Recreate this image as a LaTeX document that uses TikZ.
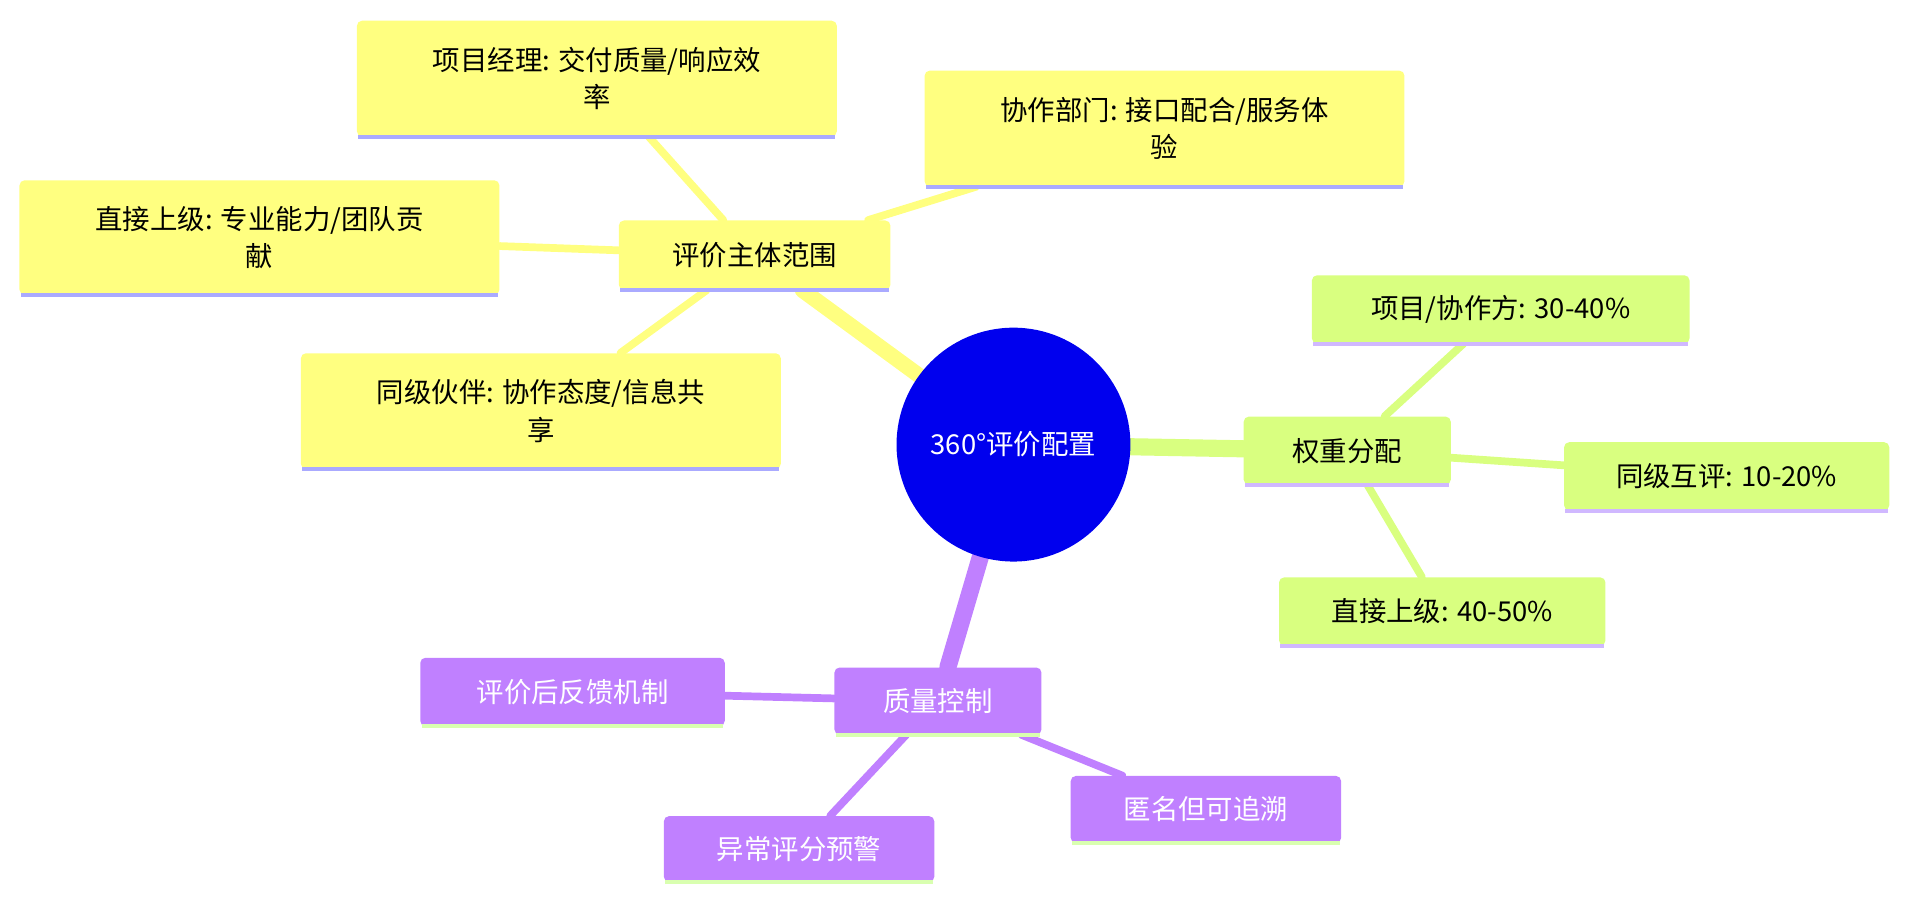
\documentclass[tikz,border=0pt]{standalone}
\usepackage{fontspec}
\setmainfont{Noto Sans CJK SC}
\usetikzlibrary{backgrounds}
\definecolor{ylw}{HTML}{FFFF80}
\definecolor{ylwl}{HTML}{FFFF80}
\definecolor{grn}{HTML}{D9FF80}
\definecolor{prp}{HTML}{C080FF}
\definecolor{lav}{HTML}{AAAAFF}
\definecolor{lav2}{HTML}{D0B8FF}
\definecolor{lgrn}{HTML}{D9FFB0}
\definecolor{ctr}{HTML}{0000EE}
\begin{document}
\begin{tikzpicture}[x=0.025cm,y=-0.025cm,
  box/.style={rounded corners=3pt,inner sep=0pt,align=center,font=\fontsize{16}{22}\selectfont},
  yb/.style={box,fill=ylw,text=black},
  gb/.style={box,fill=grn,text=black},
  pb/.style={box,fill=prp,text=white},
  ed/.style={line cap=round}]
\useasboundingbox (0,0) rectangle (1568,741);
\node[circle,fill=ctr,minimum size=192*0.025cm,text=white,font=\fontsize{16}{20}\selectfont] (c) at (832,365) {360°评价配置};
\newcommand{\bx}[7]{\node[#1,minimum width={(#4-#2)*0.025cm},minimum height={(#5-#3)*0.025cm}] (#6) at ({(#2+#4)/2},{(#3+#5)/2}) {#7};}
\bx{yb}{508}{181}{731}{238}{s}{评价主体范围}
\bx{yb}{293}{17}{687}{112}{s1}{项目经理: 交付质量/响应效\\率}
\bx{yb}{759}{58}{1153}{153}{s2}{协作部门: 接口配合/服务体\\验}
\bx{yb}{16}{148}{410}{242}{s3}{直接上级: 专业能力/团队贡\\献}
\bx{yb}{247}{290}{641}{385}{s4}{同级伙伴: 协作态度/信息共\\享}
\bx{gb}{1021}{342}{1191}{398}{w}{权重分配}
\bx{gb}{1077}{226}{1387}{282}{w1}{项目/协作方: 30-40\%}
\bx{gb}{1284}{363}{1551}{419}{w2}{同级互评: 10-20\%}
\bx{gb}{1050}{474}{1318}{530}{w3}{直接上级: 40-50\%}
\bx{pb}{685}{548}{855}{603}{q}{质量控制}
\bx{pb}{345}{540}{595}{596}{q1}{评价后反馈机制}
\bx{pb}{545}{670}{767}{724}{q2}{异常评分预警}
\bx{pb}{879}{637}{1101}{692}{q3}{匿名但可追溯}
\foreach \n in {s,s1,s2,s3,s4} \draw[lav,line width=2.5pt] ([xshift=1pt]\n.south west) -- ([xshift=-1pt]\n.south east);
\foreach \n in {w,w1,w2,w3} \draw[lav2,line width=2.5pt] ([xshift=1pt]\n.south west) -- ([xshift=-1pt]\n.south east);
\foreach \n in {q,q1,q2,q3} \draw[lgrn,line width=2.5pt] ([xshift=1pt]\n.south west) -- ([xshift=-1pt]\n.south east);
\begin{scope}[on background layer]
\draw[ed,ylw,line width=9pt] (c) -- (s);
\draw[ed,grn,line width=10pt] (c) -- (w);
\draw[ed,prp,line width=10pt] (c) -- (q);
\foreach \n in {s1,s2,s3,s4} \draw[ed,ylw,line width=4.5pt] (s) -- (\n);
\foreach \n in {w1,w2,w3} \draw[ed,grn,line width=4.5pt] (w) -- (\n);
\foreach \n in {q1,q2,q3} \draw[ed,prp,line width=4.5pt] (q) -- (\n);
\end{scope}
\end{tikzpicture}
\end{document}
